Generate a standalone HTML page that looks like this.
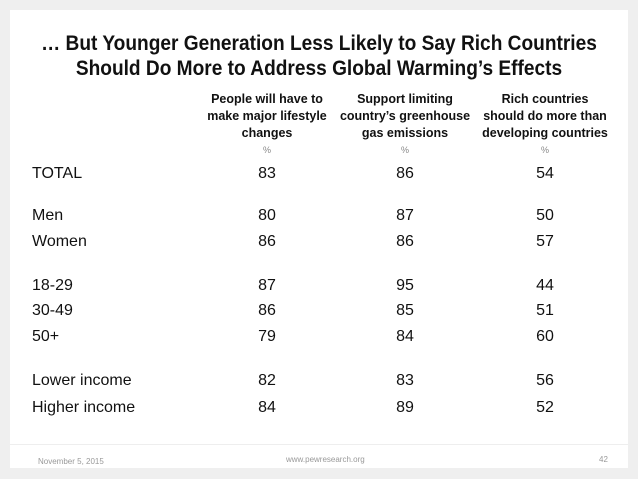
<!DOCTYPE html>
<html><head><meta charset="utf-8"><style>
body{margin:0;width:638px;height:479px;background:#efefef;position:relative;overflow:hidden;font-family:"Liberation Sans",sans-serif;color:#111}
#card{position:absolute;left:10px;top:10px;width:618px;height:458px;background:#fff}
.t{position:absolute;white-space:nowrap}
.title{left:0;width:638px;text-align:center;font-weight:bold;font-size:21px;color:#111;transform:scaleX(0.91);transform-origin:319px 0}
.hd{font-weight:bold;font-size:12.5px;text-align:center;line-height:17px;width:140px}
.pc{font-size:9px;color:#888;width:40px;text-align:center}
.lab{font-size:16px;left:32px}
.val{font-size:16px;width:60px;text-align:center}
#rule{position:absolute;left:10px;top:444px;width:618px;height:1px;background:#eee}
.ft{font-size:8px;color:#999}
</style></head><body>
<div id="card"></div>
<div class="t title" style="top:32px">… But Younger Generation Less Likely to Say Rich Countries</div>
<div class="t title" style="top:57px">Should Do More to Address Global Warming’s Effects</div>
<div id="tbl"></div>
<div id="rule"></div>
<div class="t ft" style="left:38px;top:457px">November 5, 2015</div>
<div class="t ft" style="left:286px;top:455px">www.pewresearch.org</div>
<div class="t ft" style="left:599px;top:455px">42</div>
<script>
const headers=["People will have to<br>make major lifestyle<br>changes","Support limiting<br>country’s greenhouse<br>gas emissions","Rich countries<br>should do more than<br>developing countries"];
const categories=["TOTAL","Men","Women","18-29","30-49","50+","Lower income","Higher income"];
const lifestyle=[83,80,86,87,86,79,82,84];
const limiting=[86,87,86,95,85,84,83,89];
const richMore=[54,50,57,44,51,60,56,52];
const series=[lifestyle,limiting,richMore];
const colX=[267,405,545];
const rowY=[165,207,233,277,302,328,372,399];
const root=document.getElementById('tbl');
function mk(cls,txt,left,top){const d=document.createElement('div');d.className='t '+cls;d.innerHTML=txt;d.style.left=left+'px';d.style.top=top+'px';root.appendChild(d);return d;}
headers.forEach((h,i)=>{
 const d=mk('hd',h,colX[i]-70,91);
 
 
 const p=mk('pc','%',colX[i]-20,145);
 
 
});
categories.forEach((c,r)=>{
 const l=mk('lab',c,32,rowY[r]);
 
 
 series.forEach((s,i)=>{
  const v=mk('val',s[r],colX[i]-30,rowY[r]);
  
  
 });
});
</script>
</body></html>
